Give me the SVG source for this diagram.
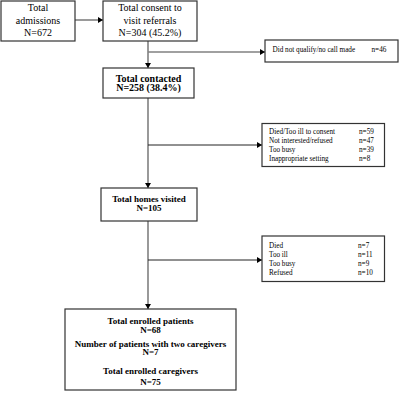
<svg xmlns="http://www.w3.org/2000/svg" width="400" height="400" viewBox="0 0 400 400">
<defs>
<style>
.box{fill:#fff;stroke:#333;stroke-width:1.2}
.t{font-family:"Liberation Serif","Times New Roman",serif;font-size:10px;fill:#000;text-anchor:middle}
.b{font-weight:bold}
.m{font-size:9px}
.s{font-family:"Liberation Serif","Times New Roman",serif;font-size:7.2px;fill:#000}
.main{stroke:#808080;stroke-width:1.6;fill:none}
.br{stroke:#222;stroke-width:1;fill:none}
</style>
<marker id="ah" markerWidth="6" markerHeight="6" refX="5" refY="3" orient="auto" markerUnits="userSpaceOnUse">
<path d="M0,0 L5,3 L0,6 Z" fill="#000"/>
</marker>
</defs>
<g id="connectors">
<line class="main" x1="75" y1="20" x2="103" y2="20" marker-end="url(#ah)"/>
<line class="main" x1="148" y1="41" x2="148" y2="68" marker-end="url(#ah)"/>
<line class="main" x1="148" y1="52" x2="265" y2="52" marker-end="url(#ah)"/>
<line class="main" x1="148" y1="98" x2="148" y2="188" marker-end="url(#ah)"/>
<line class="br" x1="148" y1="145" x2="262" y2="145" marker-end="url(#ah)"/>
<line class="main" x1="148" y1="221" x2="148" y2="309" marker-end="url(#ah)"/>
<line class="br" x1="148" y1="260" x2="262" y2="260" marker-end="url(#ah)"/>
</g>
<g id="admissions">
<rect class="box" x="1" y="1" width="74" height="40"/>
<text class="t" x="38" y="11">Total</text>
<text class="t" x="38" y="24">admissions</text>
<text class="t" x="38" y="36">N=672</text>
</g>
<g id="consent">
<rect class="box" x="103" y="1" width="94" height="40"/>
<text class="t" x="150" y="11">Total consent to</text>
<text class="t" x="150" y="24">visit referrals</text>
<text class="t" x="150" y="36">N=304 (45.2%)</text>
</g>
<g id="notqualify">
<rect class="box" x="265" y="40" width="133" height="22"/>
<text class="s" x="272.5" y="52">Did not qualify/no call made</text>
<text class="s" x="371.5" y="52">n=46</text>
</g>
<g id="contacted">
<rect class="box" x="103" y="68" width="91" height="30"/>
<text class="t b" x="148.5" y="81.5">Total contacted</text>
<text class="t b" x="148.5" y="91">N=258 (38.4%)</text>
</g>
<g id="excluded1">
<rect class="box" x="262" y="123.5" width="122.5" height="43"/>
<text class="s" x="269" y="133.5">Died/Too ill to consent</text>
<text class="s" x="359" y="133.5">n=59</text>
<text class="s" x="269" y="142.5">Not interested/refused</text>
<text class="s" x="359" y="142.5">n=47</text>
<text class="s" x="269" y="151.5">Too busy</text>
<text class="s" x="359" y="151.5">n=39</text>
<text class="s" x="269" y="160.5">Inappropriate setting</text>
<text class="s" x="359" y="160.5">n=8</text>
</g>
<g id="visited">
<rect class="box" x="101" y="188" width="96" height="33"/>
<text class="t b m" x="149" y="201.5">Total homes visited</text>
<text class="t b m" x="149" y="210.5">N=105</text>
</g>
<g id="excluded2">
<rect class="box" x="262" y="236" width="122.5" height="45.5"/>
<text class="s" x="269" y="247.5">Died</text>
<text class="s" x="358" y="247.5">n=7</text>
<text class="s" x="269" y="256.5">Too ill</text>
<text class="s" x="358" y="256.5">n=11</text>
<text class="s" x="269" y="265.5">Too busy</text>
<text class="s" x="358" y="265.5">n=9</text>
<text class="s" x="269" y="274.5">Refused</text>
<text class="s" x="358" y="274.5">n=10</text>
</g>
<g id="enrolled">
<rect class="box" x="65" y="309" width="171" height="81"/>
<text class="t b m" x="150.5" y="324">Total enrolled patients</text>
<text class="t b m" x="150.5" y="332.5">N=68</text>
<text class="t b m" x="150.5" y="346.5">Number of patients with two caregivers</text>
<text class="t b m" x="150.5" y="355">N=7</text>
<text class="t b m" x="150.5" y="373.5">Total enrolled caregivers</text>
<text class="t b m" x="150.5" y="385">N=75</text>
</g>
</svg>
